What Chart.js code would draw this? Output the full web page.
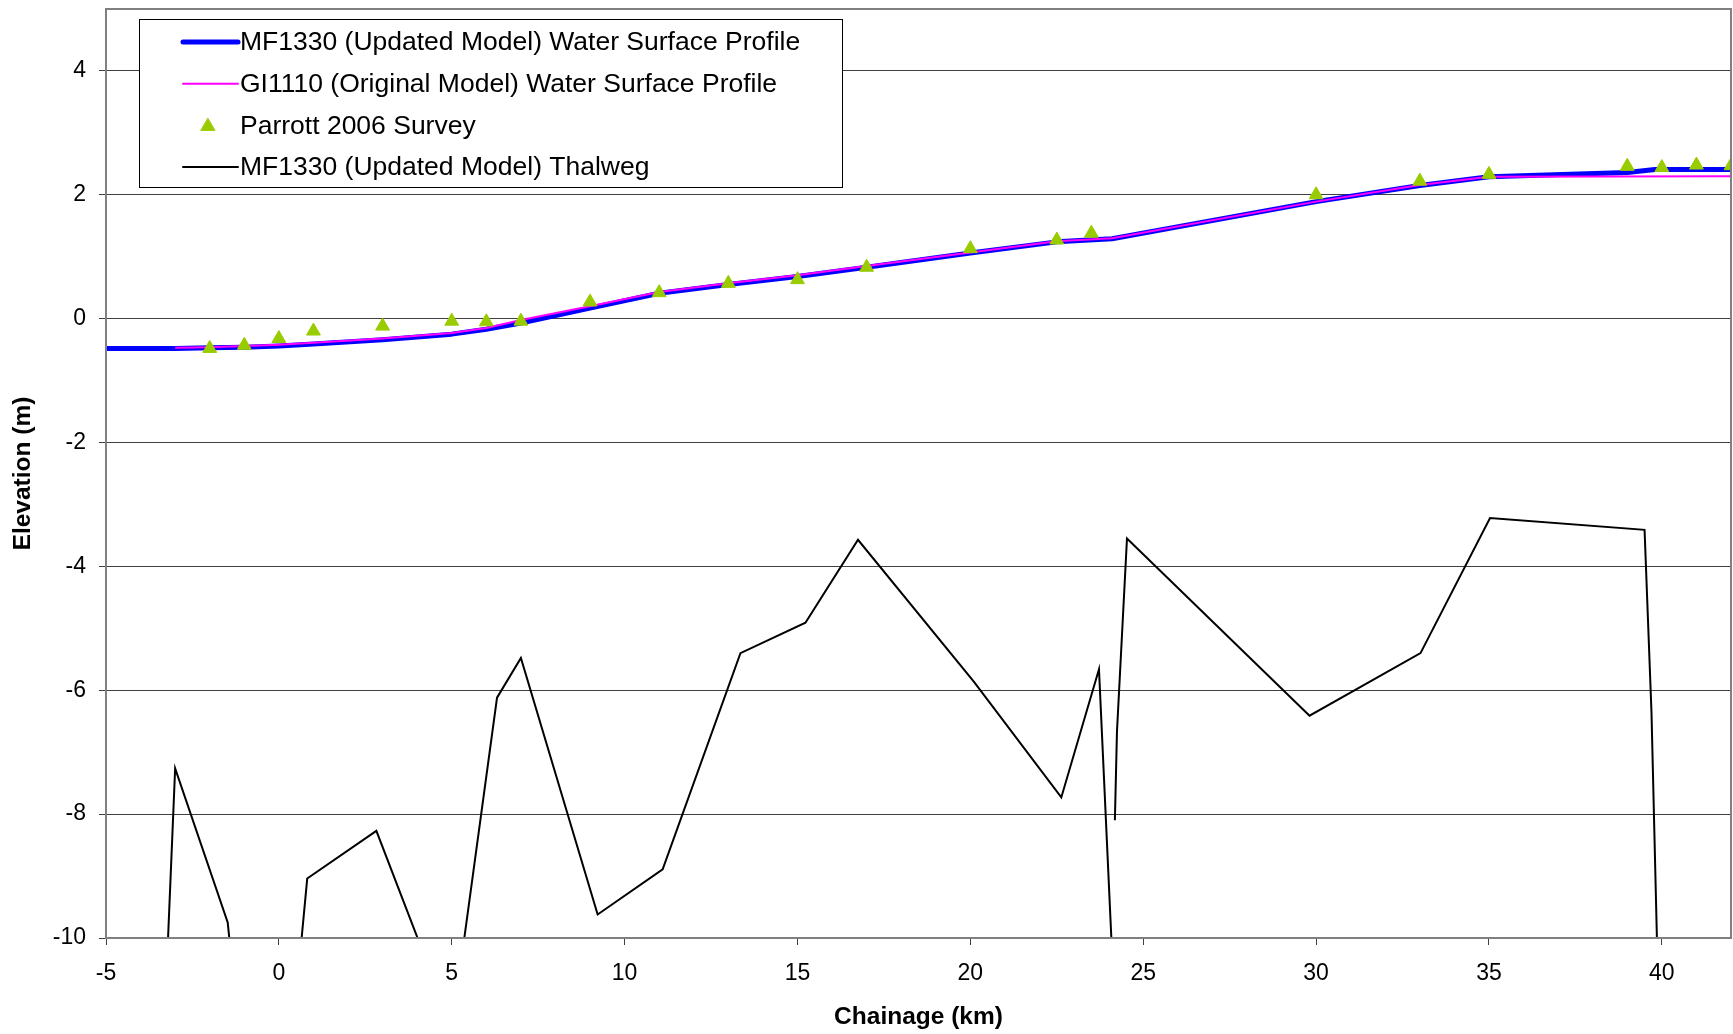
<!DOCTYPE html>
<html>
<head>
<meta charset="utf-8">
<title>Elevation profile</title>
<script src="https://cdn.jsdelivr.net/npm/chart.js@4.4.1/dist/chart.umd.min.js"></script>
<style>
  html, body { margin: 0; padding: 0; background: #fff; }
  #wrap { width: 1733px; height: 1034px; }
</style>
</head>
<body>
<div id="wrap"><canvas id="chart1"></canvas></div>
<script>
    // chainage (km) / elevation (m)
    var mfWspX = [-5, -3, -2, -1, 0, 1, 3, 5, 6, 7, 9, 11, 13, 15, 17, 20, 22.5, 24.1, 30, 33, 35, 39, 39.8, 42];
    var mfWspY = [-0.48, -0.48, -0.47, -0.46, -0.44, -0.41, -0.34, -0.25, -0.17, -0.07, 0.17, 0.41, 0.55, 0.68, 0.83, 1.06, 1.24, 1.29, 1.89, 2.15, 2.29, 2.36, 2.41, 2.41];

    var giWspX = [-3, -2, -1, 0, 1, 3, 5, 6, 7, 9, 11, 13, 15, 17, 20, 22.5, 24.1, 30, 33, 35, 42];
    var giWspY = [-0.47, -0.46, -0.44, -0.42, -0.39, -0.32, -0.23, -0.15, -0.02, 0.2, 0.43, 0.57, 0.7, 0.85, 1.07, 1.25, 1.3, 1.89, 2.16, 2.29, 2.3];

    var surveyX = [-2, -1, 0, 1, 3, 5, 6, 7, 9, 11, 13, 15, 17, 20, 22.5, 23.5, 30, 33, 35, 39, 40, 41, 42];
    var surveyY = [-0.48, -0.43, -0.32, -0.2, -0.12, -0.04, -0.05, -0.04, 0.27, 0.42, 0.57, 0.63, 0.83, 1.13, 1.27, 1.38, 2.0, 2.22, 2.33, 2.46, 2.44, 2.48, 2.47];

    // null = gap in the thalweg record
    var thalwegX = [-5, -3.28, -3.0, -1.48, -1.25, 0.49, 0.82, 2.82, 4.7, 5.12, 6.31, 7.0, 9.22, 11.1, 13.35, 15.23, 16.75, 20.1, 22.63, 23.72, 24.16, 24.17, 24.18, 24.24, 24.53, 29.81, 33.02, 35.03, 39.5, 39.7, 39.9, 42];
    var thalwegY = [-11, -11, -7.26, -9.75, -11, -11, -9.04, -8.27, -11, -11, -6.12, -5.48, -9.62, -8.89, -5.40, -4.91, -3.57, -5.86, -7.73, -5.66, -11, null, -8.10, -6.67, -3.55, -6.41, -5.40, -3.22, -3.41, -6.35, -11, -11];

    var xTicks = [-5, 0, 5, 10, 15, 20, 25, 30, 35, 40];
    var yTicks = [-10, -8, -6, -4, -2, 0, 2, 4];

    var seriesNames = [
        'MF1330 (Updated Model) Water Surface Profile',
        'GI1110 (Original Model) Water Surface Profile',
        'Parrott 2006 Survey',
        'MF1330 (Updated Model) Thalweg'
    ];

    function pts(xs, ys) {
        return xs.map(function(x, i) { return {x: x, y: ys[i]}; });
    }

    // boxed legend inside the plot, like the excel one
    var boxLegend = {
        id: 'boxLegend',
        afterDraw: function(chart) {
            var ctx = chart.ctx;
            var area = chart.chartArea;
            var x0 = area.left + 33, y0 = area.top + 10, w = 703, h = 168;
            ctx.save();
            ctx.fillStyle = '#fff';
            ctx.fillRect(x0, y0, w, h);
            ctx.strokeStyle = '#000';
            ctx.lineWidth = 1;
            ctx.strokeRect(x0 + 0.5, y0 + 0.5, w, h);
            ctx.font = '26.5px "Liberation Sans", Arial, sans-serif';
            ctx.textBaseline = 'middle';
            chart.data.datasets.forEach(function(ds, i) {
                var cy = y0 + 23 + i * 41.7;
                if (ds.showLine) {
                    ctx.strokeStyle = ds.borderColor;
                    ctx.lineWidth = ds.borderWidth;
                    ctx.lineCap = 'round';
                    ctx.beginPath();
                    ctx.moveTo(x0 + 44, cy);
                    ctx.lineTo(x0 + 99, cy);
                    ctx.stroke();
                } else {
                    ctx.fillStyle = ds.backgroundColor;
                    ctx.strokeStyle = ds.borderColor;
                    ctx.lineWidth = 1;
                    Chart.helpers.drawPoint(ctx, {pointStyle: 'triangle', radius: ds.pointRadius, borderWidth: 1},
                        x0 + 69, cy + 1);
                }
                ctx.fillStyle = '#000';
                ctx.fillText(ds.label, x0 + 101, cy + 1);
            });
            // plot frame
            ctx.strokeStyle = '#808080';
            ctx.lineWidth = 2;
            ctx.strokeRect(area.left, area.top, area.right - area.left, area.bottom - area.top);
            ctx.restore();
        }
    };

    var ctx = document.getElementById('chart1').getContext('2d');
    var myChart = new Chart(ctx, {
        type: 'scatter',
        data: {
            datasets: [{
                label: seriesNames[0],
                data: pts(mfWspX, mfWspY),
                showLine: true,
                borderColor: '#0000ff',
                backgroundColor: '#0000ff',
                borderWidth: 5,
                borderJoinStyle: 'round',
                pointRadius: 0,
                order: 3
            }, {
                label: seriesNames[1],
                data: pts(giWspX, giWspY),
                showLine: true,
                borderColor: '#ff00ff',
                backgroundColor: '#ff00ff',
                borderWidth: 2,
                borderJoinStyle: 'round',
                pointRadius: 0,
                order: 2
            }, {
                label: seriesNames[2],
                data: pts(surveyX, surveyY),
                showLine: false,
                pointStyle: 'triangle',
                pointRadius: 8,
                borderWidth: 1,
                borderColor: '#99cc00',
                backgroundColor: '#99cc00',
                order: 1
            }, {
                label: seriesNames[3],
                data: pts(thalwegX, thalwegY),
                showLine: true,
                spanGaps: false,
                borderColor: '#000000',
                backgroundColor: '#000000',
                borderWidth: 2,
                borderJoinStyle: 'miter',
                pointRadius: 0,
                order: 4
            }]
        },
        options: {
            responsive: true,
            maintainAspectRatio: false,
            animation: false,
            layout: { autoPadding: false, padding: { top: 9, right: 2, left: 0, bottom: 0 } },
            plugins: {
                legend: { display: false },
                tooltip: { enabled: false }
            },
            scales: {
                x: {
                    type: 'linear',
                    min: -5,
                    max: 42,
                    afterBuildTicks: function(axis) {
                        axis.ticks = xTicks.map(function(v) { return {value: v}; });
                    },
                    afterFit: function(axis) {
                        axis.height = 96;
                        axis.paddingLeft = 0;
                        axis.paddingRight = 0;
                    },
                    ticks: {
                        color: '#000',
                        padding: 15,
                        maxRotation: 0,
                        font: { family: '"Liberation Sans", Arial', size: 23 }
                    },
                    grid: {
                        drawOnChartArea: false,
                        drawTicks: true,
                        tickLength: 7,
                        color: '#404040'
                    },
                    border: { color: '#404040', width: 2 },
                    title: {
                        display: true,
                        text: 'Chainage (km)',
                        color: '#000',
                        padding: { top: 0, bottom: 2 },
                        font: { family: '"Liberation Sans", Arial', size: 24.5, weight: 'bold' }
                    }
                },
                y: {
                    min: -10,
                    max: 5,
                    afterBuildTicks: function(axis) {
                        axis.ticks = yTicks.map(function(v) { return {value: v}; });
                    },
                    afterFit: function(axis) {
                        axis.width = 106;
                        axis.paddingTop = 0;
                        axis.paddingBottom = 0;
                    },
                    ticks: {
                        color: '#000',
                        padding: 13,
                        font: { family: '"Liberation Sans", Arial', size: 23 }
                    },
                    grid: {
                        drawOnChartArea: true,
                        tickLength: 7,
                        color: '#404040',
                        lineWidth: 1
                    },
                    border: { color: '#808080', width: 2 },
                    title: {
                        display: true,
                        text: 'Elevation (m)',
                        color: '#000',
                        padding: { top: 9, bottom: 0 },
                        font: { family: '"Liberation Sans", Arial', size: 24.5, weight: 'bold' }
                    }
                }
            }
        },
        plugins: [boxLegend]
    });
</script>
</body>
</html>
